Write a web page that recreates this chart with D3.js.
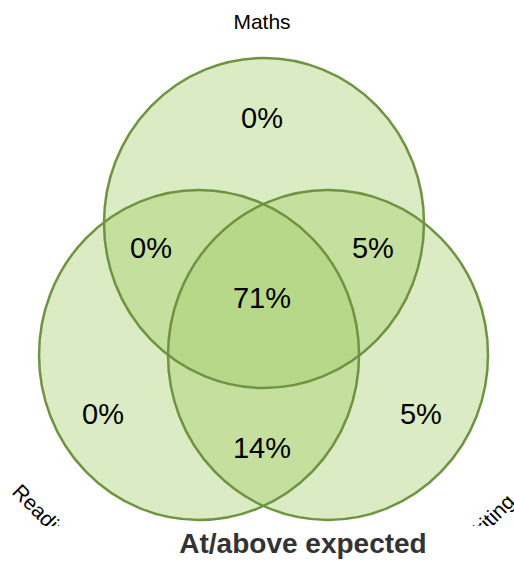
<!DOCTYPE html>
<html lang="en">
<head>
    <meta charset="UTF-8">
    <title>Venn | D3</title>
    <style>
        body { margin: 0; background: #fff; }
    </style>
</head>
<body>
    <div id="container"></div>
    <script src="https://d3js.org/d3.v7.min.js"></script>
    <script>
        // Data
        var sets = ["Maths", "Reading", "Writing"];
        var regions = ["M", "MR", "MW", "MRW", "R", "RW", "W"];
        var regionValues = [0, 0, 5, 71, 0, 14, 5];
        var title = "At/above expected";

        var width = 514, height = 562;

        var svg = d3.select("#container").append("svg")
            .attr("width", width)
            .attr("height", height);

        // Layout in unit space (-1..1), mapped with scales
        var x = d3.scaleLinear().domain([-1, 1]).range([104, 424]);
        var y = d3.scaleLinear().domain([-1, 1]).range([58, 388]);
        var rx = (x(1) - x(-1)) / 2,
            ry = (y(1) - y(-1)) / 2;

        var centres = {
            Maths: [0, 0],
            Reading: [-0.406, 0.8],
            Writing: [0.4, 0.8]
        };

        // the plot area is cut off just under the circles, like the original
        svg.append("clipPath").attr("id", "clip")
            .append("rect").attr("width", width).attr("height", 526);

        var g = svg.append("g").attr("clip-path", "url(#clip)");

        g.selectAll("ellipse.fill")
            .data(sets)
            .enter().append("ellipse")
            .attr("class", "fill")
            .attr("cx", function(d) { return x(centres[d][0]); })
            .attr("cy", function(d) { return y(centres[d][1]); })
            .attr("rx", rx)
            .attr("ry", ry)
            .attr("fill", "rgb(166,204,106)")
            .attr("fill-opacity", 0.4);

        g.selectAll("ellipse.edge")
            .data(sets)
            .enter().append("ellipse")
            .attr("class", "edge")
            .attr("cx", function(d) { return x(centres[d][0]); })
            .attr("cy", function(d) { return y(centres[d][1]); })
            .attr("rx", rx)
            .attr("ry", ry)
            .attr("fill", "none")
            .attr("stroke", "#6e9441")
            .attr("stroke-width", 2.5);

        // Region label spots in unit space
        var spots = {
            M: [-0.0125, -0.636],
            MR: [-0.706, 0.152],
            MW: [0.681, 0.152],
            MRW: [-0.0125, 0.455],
            R: [-1.006, 1.158],
            RW: [-0.0125, 1.364],
            W: [0.981, 1.158]
        };

        g.selectAll("text.val")
            .data(regions)
            .enter().append("text")
            .attr("class", "val")
            .attr("x", function(d) { return x(spots[d][0]); })
            .attr("y", function(d) { return y(spots[d][1]); })
            .attr("text-anchor", "middle")
            .attr("dominant-baseline", "central")
            .style("font-family", "Liberation Sans, Arial, sans-serif")
            .style("font-size", "29px")
            .text(function(d, i) { return regionValues[i] + "%"; });

        // Set labels
        var labelSpots = [
            { x: 262, y: 29, rot: 0, anchor: "middle" },
            { x: 11, y: 493, rot: 45, anchor: "start" },
            { x: 516, y: 503, rot: -45, anchor: "end" }
        ];

        g.selectAll("text.set")
            .data(sets)
            .enter().append("text")
            .attr("class", "set")
            .attr("transform", function(d, i) {
                var p = labelSpots[i];
                return "translate(" + p.x + "," + p.y + ") rotate(" + p.rot + ")";
            })
            .attr("text-anchor", function(d, i) { return labelSpots[i].anchor; })
            .style("font-family", "Liberation Sans, Arial, sans-serif")
            .style("font-size", "21px")
            .text(function(d) { return d; });

        svg.append("text")
            .attr("x", 303)
            .attr("y", 553)
            .attr("text-anchor", "middle")
            .style("font-family", "Liberation Sans, Arial, sans-serif")
            .style("font-size", "28px")
            .style("font-weight", "bold")
            .style("fill", "#333")
            .text(title);
    </script>
</body>
</html>
